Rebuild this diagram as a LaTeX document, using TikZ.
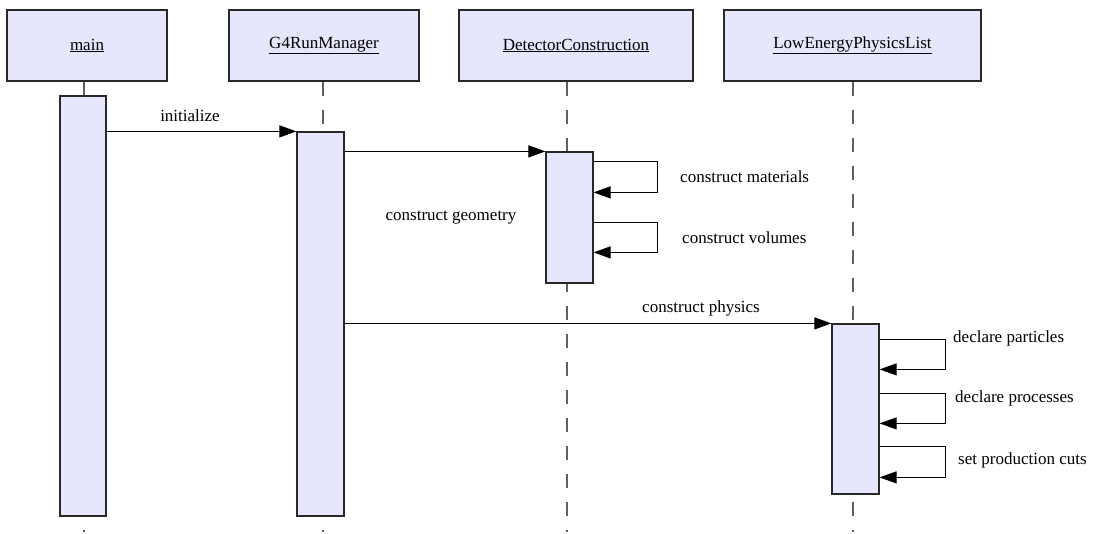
\documentclass[tikz,border=0pt]{standalone}
\usepackage{fontspec}
\setmainfont{Liberation Serif}
\usetikzlibrary{calc,arrows.meta}
\definecolor{actfill}{RGB}{230,230,252}
\definecolor{boxline}{RGB}{40,40,40}
\definecolor{lifegray}{RGB}{95,95,95}

\begin{document}
\begin{tikzpicture}[x=1pt,y=-1pt,
        obj/.style={rectangle,draw=boxline,fill=actfill,line width=1.4pt,minimum height=71pt,inner sep=0pt,font=\fontsize{17}{20}\selectfont},
        act/.style={rectangle,draw=boxline,fill=actfill,line width=1.2pt,minimum width=47pt,inner sep=0pt},
        life/.style={draw=lifegray,line width=1.3pt,dash pattern=on 14pt off 14pt},
        msg/.style={-{Triangle[length=17pt,width=12pt]},line width=1.1pt},
        lbl/.style={inner sep=0pt,font=\fontsize{17}{20}\selectfont}]
        \useasboundingbox (0,0) rectangle (1094,534);
        % object heads
        \node[obj,minimum width=160pt] (main) at (87,45.5) {\underline{main}};
        \node[obj,minimum width=190pt] (runmgr) at (324,45.5) {\underline{G4RunManager}};
        \node[obj,minimum width=234pt] (detcon) at (576,45.5) {\underline{DetectorConstruction}};
        \node[obj,minimum width=257pt] (physlist) at (852.5,45.5) {\underline{LowEnergyPhysicsList}};
        % ends of the lifelines
        \coordinate (mainend) at (84,532);
        \coordinate (runend) at (323,532);
        \coordinate (detend) at (567,532);
        \coordinate (physend) at (853,532);
        \draw[life] (mainend |- main.south) -- (mainend);
        \draw[life] (runend |- runmgr.south) -- (runend);
        \draw[life] (detend |- detcon.south) -- (detend);
        \draw[life] (physend |- physlist.south) -- (physend);
        % activations
        \node[act,minimum width=46pt,minimum height=420pt] (mainact) at (83,306) {};
        \node[act,minimum height=384pt] (runact) at (320.5,324) {};
        \node[act,minimum height=131pt] (detact) at (569.5,217.5) {};
        \node[act,minimum height=170pt] (physact) at (855.5,409) {};
        % messages
        \draw[msg] (mainact.east |- runact.north west) -- (runact.north west);
        \draw[msg] (runact.east |- detact.north west) -- (detact.north west);
        \draw[msg] (runact.east |- physact.north west) -- (physact.north west);
        \draw[msg] ($(detact.north east)+(0,10)$) -- ++(64,0) |- ($(detact.north east)+(0,41)$);
        \draw[msg] ($(detact.north east)+(0,71)$) -- ++(64,0) |- ($(detact.north east)+(0,101)$);
        \draw[msg] ($(physact.north east)+(0,16)$) -- ++(66,0) |- ($(physact.north east)+(0,46)$);
        \draw[msg] ($(physact.north east)+(0,70)$) -- ++(66,0) |- ($(physact.north east)+(0,100)$);
        \draw[msg] ($(physact.north east)+(0,123)$) -- ++(66,0) |- ($(physact.north east)+(0,154)$);
        % labels
        \node[lbl] (initlbl) at (190,116) {initialize};
        \node[lbl] (geomlbl) at (451,218) {construct geometry};
        \node[lbl] (physlbl) at (701,308) {construct physics};
        \node[lbl,anchor=west] (matlbl) at (680,177) {construct materials};
        \node[lbl,anchor=west] (vollbl) at (682,238) {construct volumes};
        \node[lbl,anchor=west] (partlbl) at (953,338) {declare particles};
        \node[lbl,anchor=west] (proclbl) at (955,398) {declare processes};
        \node[lbl,anchor=west] (cutlbl) at (958,460) {set production cuts};
    \end{tikzpicture}
\end{document}
